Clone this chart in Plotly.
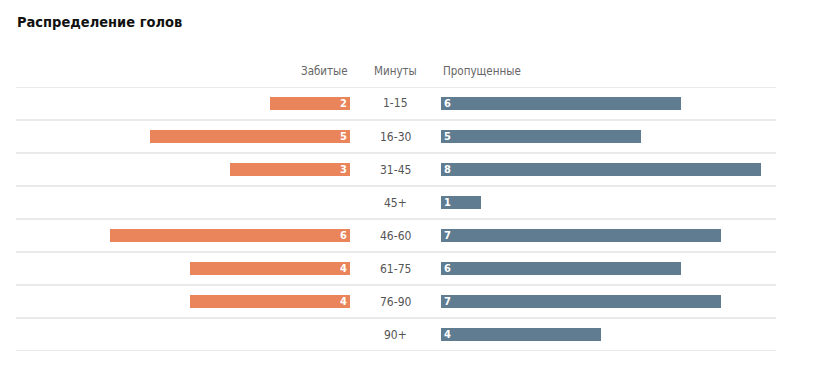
import plotly.graph_objects as go

title = "Распределение голов"
header_scored = "Забитые"
header_minutes = "Минуты"
header_conceded = "Пропущенные"
minutes = ["1-15", "16-30", "31-45", "45+", "46-60", "61-75", "76-90", "90+"]
scored = [2, 5, 3, 0, 6, 4, 4, 0]
conceded = [6, 5, 8, 1, 7, 6, 7, 4]

OFF = 8
W, H = 813 - 2 * OFF, 374 - 2 * OFF
FONT = "DejaVu Sans Condensed, DejaVu Sans, sans-serif"
ORANGE = "#EA845A"
BLUE = "#5F7C91"

def px(x):
    return (x - OFF) / W

def py(y):
    return 1 - (y - OFF) / H

left_px = (16, 350)
right_px = (441, 776)
top_px, bottom_px = 87, 351
unit = 40.0

fig = go.Figure()
fig.add_trace(go.Bar(
    y=minutes, x=scored, orientation="h", xaxis="x", yaxis="y",
    marker=dict(color=ORANGE, line=dict(width=0)), width=0.42,
    text=[str(v) if v else "" for v in scored], textposition="inside",
    insidetextanchor="start", textangle=0,
    textfont=dict(family=FONT, size=11, color="white", weight="bold"),
    hoverinfo="skip", showlegend=False, cliponaxis=False,
))
fig.add_trace(go.Bar(
    y=minutes, x=conceded, orientation="h", xaxis="x2", yaxis="y",
    marker=dict(color=BLUE, line=dict(width=0)), width=0.42,
    text=[str(v) if v else "" for v in conceded], textposition="inside",
    insidetextanchor="start", textangle=0,
    textfont=dict(family=FONT, size=11, color="white", weight="bold"),
    hoverinfo="skip", showlegend=False, cliponaxis=False,
))

shapes = []
for i in range(len(minutes) + 1):
    shapes.append(dict(type="line", xref="paper", yref="y",
                       x0=px(16), x1=px(776), y0=i - 0.5, y1=i - 0.5,
                       line=dict(color="#E3E3E3", width=1.3), layer="below"))

annotations = []
for m in minutes:
    annotations.append(dict(x=px(395.5), xref="paper", y=m, yref="y", text=m,
                            showarrow=False, xanchor="center", yanchor="middle",
                            font=dict(family=FONT, size=12, color="#555")))
hy = py(71)
annotations += [
    dict(x=px(350), y=hy, xref="paper", yref="paper", text=header_scored, showarrow=False,
         xanchor="right", yanchor="middle", font=dict(family=FONT, size=11.5, color="#666")),
    dict(x=px(395.5), y=hy, xref="paper", yref="paper", text=header_minutes, showarrow=False,
         xanchor="center", yanchor="middle", font=dict(family=FONT, size=11.5, color="#666")),
    dict(x=px(441), y=hy, xref="paper", yref="paper", text=header_conceded, showarrow=False,
         xanchor="left", yanchor="middle", font=dict(family=FONT, size=11.5, color="#666")),
    dict(x=px(15), y=py(22), xref="paper", yref="paper", text="<b>" + title + "</b>",
         showarrow=False, xanchor="left", yanchor="middle",
         font=dict(family=FONT, size=14.5, color="#111")),
]

fig.update_layout(
    width=W, height=H, margin=dict(l=0, r=0, t=0, b=0),
    paper_bgcolor="white", plot_bgcolor="white",
    barmode="overlay", bargap=0,
    xaxis=dict(domain=[px(left_px[0]), px(left_px[1])],
               range=[(left_px[1] - left_px[0]) / unit, 0],
               visible=False, fixedrange=True),
    xaxis2=dict(domain=[px(right_px[0]), px(right_px[1])],
                range=[0, (right_px[1] - right_px[0]) / unit],
                visible=False, fixedrange=True, anchor="y"),
    yaxis=dict(domain=[py(bottom_px), py(top_px)],
               categoryorder="array", categoryarray=minutes,
               range=[len(minutes) - 0.5, -0.5], visible=False, fixedrange=True),
    shapes=shapes, annotations=annotations,
    uniformtext=dict(mode="show", minsize=8),
)

fig.write_html("out.html")
